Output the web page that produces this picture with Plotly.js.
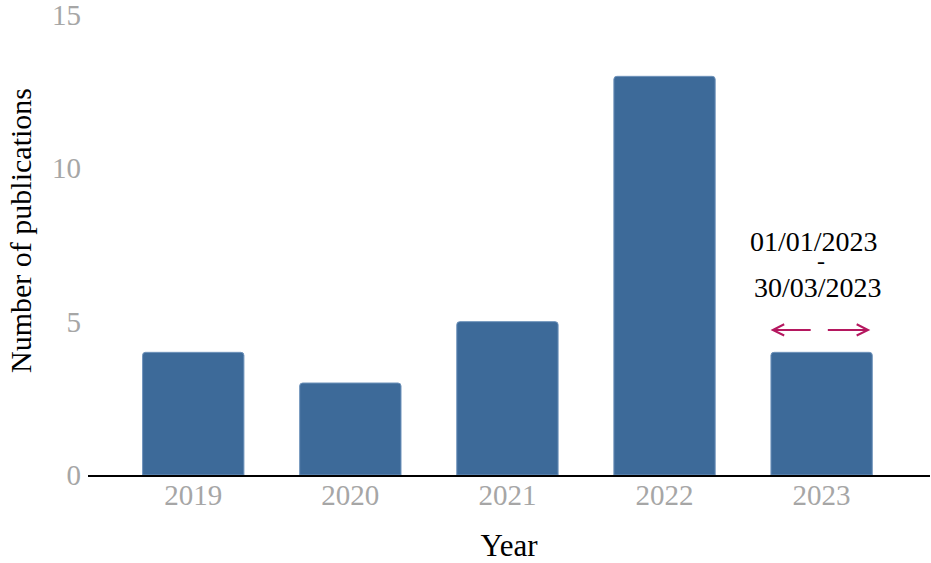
<!DOCTYPE html>
<html>
<head>
<meta charset="utf-8">
<script src="https://cdn.plot.ly/plotly-3.0.1.min.js"></script>
<style>html,body{margin:0;padding:0;background:#fff;}#chart{width:931px;height:563px;}</style>
</head>
<body>
<div id="chart"></div>
<script>
const years = ["2019", "2020", "2021", "2022", "2023"];
const publications = [4, 3, 5, 13, 4];
const yTicks = [0, 5, 10, 15];
const noteLines = ["01/01/2023", "-", "30/03/2023"];
const yTitle = "Number of publications";
const xTitle = "Year";

const FONT = "Liberation Serif, Times New Roman, serif";
const arrowColor = "#b5175f";

const trace = {
  type: "bar",
  x: years,
  y: publications,
  marker: { color: "#3d6a99", line: { color: "#6f93bb", width: 1 }, cornerradius: 3 },
  width: 0.645,
  hoverinfo: "x+y"
};

const layout = {
  width: 931, height: 563,
  margin: { l: 88, r: 1, t: 15, b: 88 },
  paper_bgcolor: "#fff", plot_bgcolor: "#fff",
  showlegend: false,
  font: { family: FONT, color: "#000" },
  xaxis: {
    type: "category",
    range: [-0.67, 4.69],
    showline: true, linecolor: "#000", linewidth: 1.5,
    showgrid: false, zeroline: false, ticks: "",
    ticklabelstandoff: -6,
    tickfont: { family: FONT, size: 29, color: "#a6a6a6" },
    title: { text: xTitle, font: { family: FONT, size: 31, color: "#000" }, standoff: 28 }
  },
  yaxis: {
    range: [0, 15],
    tickvals: yTicks,
    showgrid: false, zeroline: false, showline: false, ticks: "",
    ticklabelstandoff: 6,
    ticklabeloverflow: "allow",
    tickfont: { family: FONT, size: 29, color: "#a6a6a6" }
  },
  annotations: [
    { xref: "paper", yref: "paper", x: -0.0808, y: 0.5326, text: yTitle, textangle: -90, showarrow: false,
      font: { family: FONT, size: 30, color: "#000" }, xanchor: "center", yanchor: "middle" },
    { xref: "x", yref: "y", x: 3.949, y: 7.60, text: noteLines[0], showarrow: false,
      font: { family: FONT, size: 28, color: "#000" }, yanchor: "middle" },
    { xref: "x", yref: "y", x: 3.994, y: 6.98, text: noteLines[1], showarrow: false,
      font: { family: FONT, size: 24, color: "#000" }, yanchor: "middle" },
    { xref: "x", yref: "y", x: 3.975, y: 6.13, text: noteLines[2], showarrow: false,
      font: { family: FONT, size: 28, color: "#000" }, yanchor: "middle" },
    {
      xref: "x", yref: "y", axref: "x", ayref: "y",
      x: 3.675, y: 4.73, ax: 3.94, ay: 4.73,
      text: "", showarrow: true, arrowhead: 5, arrowsize: 1.1, arrowwidth: 2, arrowcolor: arrowColor
    },
    {
      xref: "x", yref: "y", axref: "x", ayref: "y",
      x: 4.31, y: 4.73, ax: 4.03, ay: 4.73,
      text: "", showarrow: true, arrowhead: 5, arrowsize: 1.1, arrowwidth: 2, arrowcolor: arrowColor
    }
  ]
};

Plotly.newPlot("chart", [trace], layout, { displayModeBar: false, staticPlot: true });
</script>
</body>
</html>
